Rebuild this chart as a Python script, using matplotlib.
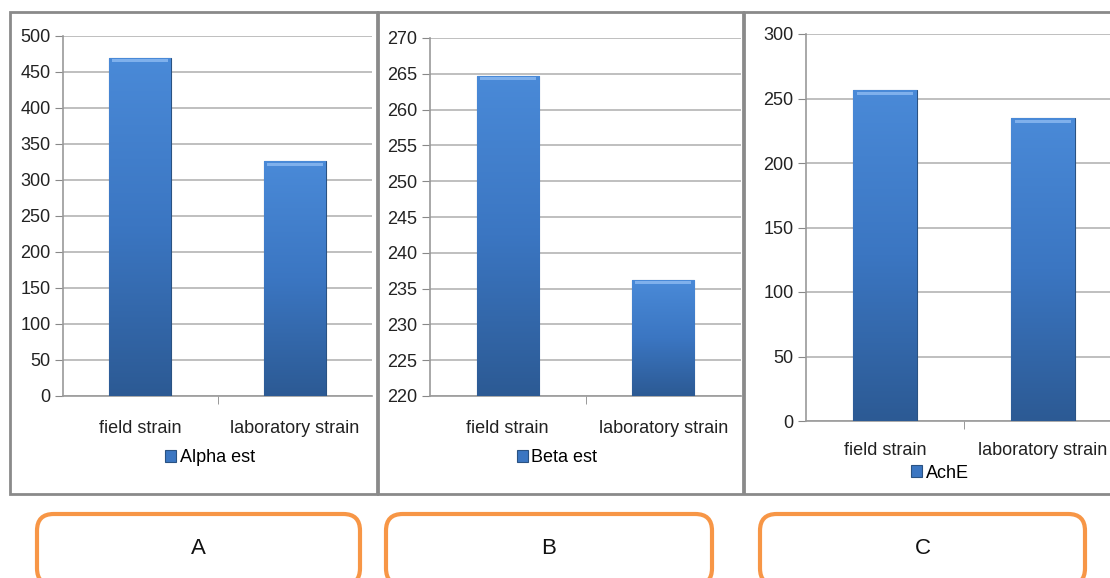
import matplotlib
matplotlib.use("Agg")
import matplotlib.pyplot as plt
import numpy as np
from matplotlib.patches import FancyBboxPatch, Rectangle
from matplotlib.colors import LinearSegmentedColormap

plt.rcParams['font.family'] = ['Liberation Sans', 'DejaVu Sans']

categories = ["field strain", "laboratory strain"]
alpha_est = [470, 326]
beta_est = [264.7, 236.2]
ache = [256.6, 234.9]
series_names = ["Alpha est", "Beta est", "AchE"]
panel_letters = ["A", "B", "C"]

W, H = 1110, 578
fig = plt.figure(figsize=(W / 100, H / 100), dpi=100)
fig.patch.set_facecolor("white")

cmap = LinearSegmentedColormap.from_list("bar", ["#2c5a94", "#3b76c2", "#4a8ad8"])


def px_axes(left, right, top, bottom):
    return fig.add_axes([left / W, (H - bottom) / H, (right - left) / W, (bottom - top) / H])


def draw_panel(ax, values, ylim, yticks, name, xpad):
    x = np.arange(len(categories))
    bars = ax.bar(x, values, width=0.4, color="#3b76c2", edgecolor="#2a5282",
                  linewidth=0.8, zorder=3, label=name)
    grad = np.linspace(0, 1, 256).reshape(-1, 1)
    for b in bars:
        x0, y0 = b.get_x(), b.get_y()
        w, h = b.get_width(), b.get_height()
        im = ax.imshow(grad, cmap=cmap, aspect="auto", origin="lower",
                       extent=[x0, x0 + w, ylim[0], y0 + h], zorder=3.5)
        im.set_clip_path(b)
        ax.add_patch(Rectangle((x0 + w * 0.05, y0 + h - (ylim[1] - ylim[0]) * 0.012),
                               w * 0.9, (ylim[1] - ylim[0]) * 0.008,
                               facecolor="#7fb0ec", edgecolor="none", zorder=4))
    ax.set_xlim(-0.5, len(categories) - 0.5)
    ax.set_ylim(*ylim)
    ax.set_yticks(yticks)
    ax.set_xticks(x)
    ax.set_xticklabels(categories)
    ax.set_xticks([0.5], minor=True)
    ax.tick_params(axis="x", which="major", length=0, labelsize=13, pad=xpad, colors="#222222")
    ax.tick_params(axis="x", which="minor", length=6, color="#888888", direction="out")
    ax.tick_params(axis="y", length=6, color="#888888", labelsize=13, colors="#222222", pad=3)
    ax.grid(axis="y", color="#b4b4b4", linewidth=1.2, zorder=0)
    ax.set_axisbelow(True)
    for s in ["top", "right"]:
        ax.spines[s].set_visible(False)
    for s in ["left", "bottom"]:
        ax.spines[s].set_color("#9a9a9a")
        ax.spines[s].set_linewidth(1.2)
    return bars


for (l, r) in [(10, 377), (378, 743), (744, 1112)]:
    fig.add_artist(Rectangle((l / W, (H - 494) / H), (r - l) / W, (494 - 12) / H,
                             transform=fig.transFigure, facecolor="none",
                             edgecolor="#8a8a8a", linewidth=2))

axA = px_axes(63, 372, 36, 396)
bA = draw_panel(axA, alpha_est, (0, 500), np.arange(0, 501, 50), series_names[0], 17)
axB = px_axes(430, 741, 38, 396)
bB = draw_panel(axB, beta_est, (220, 270), np.arange(220, 271, 5), series_names[1], 17)
axC = px_axes(806, 1122, 34, 421)
bC = draw_panel(axC, ache, (0, 300), np.arange(0, 301, 50), series_names[2], 15)

legend_pos = [(210, 458), (557, 458), (940, 473)]
for ax, bars, (lx, ly), name in zip([axA, axB, axC], [bA, bB, bC], legend_pos, series_names):
    fig.legend([bars[0]], [name], loc="center", bbox_to_anchor=(lx / W, (H - ly) / H),
               frameon=False, fontsize=13, handlelength=0.6, handleheight=0.6,
               handletextpad=0.2, borderpad=0)

for (l, r), letter in zip([(37, 360), (386, 712), (760, 1085)], panel_letters):
    fig.add_artist(FancyBboxPatch((l / W, (H - 585) / H), (r - l) / W, (585 - 514) / H,
                                  boxstyle="round,pad=0,rounding_size=0.015",
                                  transform=fig.transFigure, facecolor="white",
                                  edgecolor="#f79646", linewidth=3, mutation_aspect=W / H))
    fig.text((l + r) / 2 / W, (H - 548) / H, letter, ha="center", va="center",
             fontsize=16, color="#111111")

fig.savefig("out.png", dpi=100)
